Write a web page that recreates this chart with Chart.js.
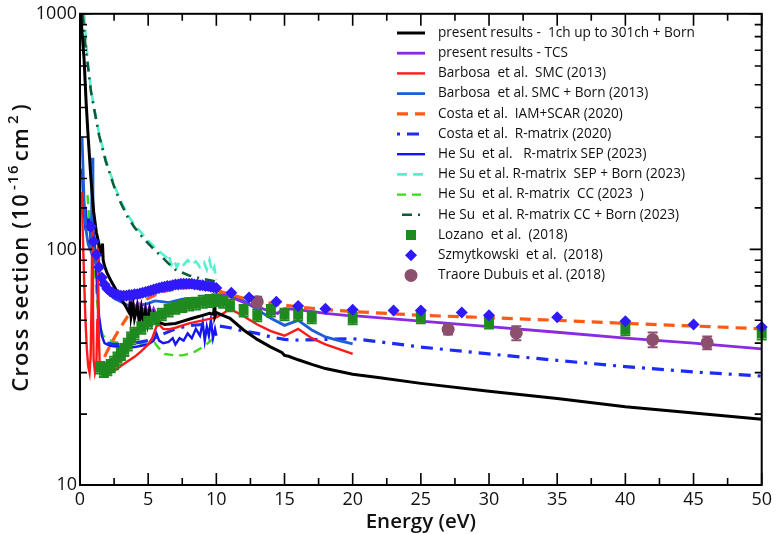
<!DOCTYPE html>
<html>
<head>
<meta charset="utf-8">
<script src="https://cdn.jsdelivr.net/npm/chart.js@4.4.1/dist/chart.umd.min.js"></script>
<style>
  html, body { margin: 0; padding: 0; background: #fff; }
  #wrap { width: 776px; height: 534px; }
</style>
</head>
<body>
<div id="wrap"><canvas id="chart" width="776" height="534"></canvas></div>
<script>
// Energy in eV, cross section in 1e-16 cm^2

const presentE = [0.05,0.3,0.45,0.6,0.8,1.0,1.2,1.4,1.55,1.62,1.65,1.7,1.8,2.0,2.3,2.6,3.0,3.3,3.6,3.7,3.75,3.9,4.0,4.2,4.35,4.5,4.65,4.8,4.95,5.1,5.25,5.4,5.6,5.8,6.2,7.0,7.5,8.0,8.5,9.0,9.5,9.8,9.85,9.9,10.0,10.3,11,12,13,14,14.8,15,15.3,16,17,18,20,22,25,30,35,40,45,50];
const presentV = [1000,640,420,300,200,145,118,105,98,95,106,90,85,79,73,68,62,58,54,60,52,58,51,57,49,56,49,55,48.5,55,49,53,48.5,49,48,48.5,49.5,50.5,51.5,52.5,53.5,53,58,52,54,53,51,45.5,41.5,38.5,36.5,35.5,35.2,34,32.5,31.2,29.5,28.5,27,25,23.3,21.5,20.2,19];

const tcsE = [3.6,3.7,3.75,3.9,4.0,4.2,4.35,4.5,4.65,4.8,4.95,5.1,5.25,5.4,5.6,5.8,6.2,6.6,7,7.5,8,8.5,9,9.5,10,10.5,11,12,13,14,14.5,14.8,15,16,18,19.5,20,25,30,35,40,45,50];
const tcsV = [54,63,55,58,54,59,53,58,53,57,53,57,53,56,53,54,54,54.5,55,56,57.5,59,60.5,62,63.5,64,63,59.5,57,54.5,53.5,55.5,56,55.5,53.5,52.5,52.3,49.6,47,44.5,42,40,37.8];

const smcE = [0.12,0.2,0.3,0.4,0.5,0.6,0.7,0.78,0.85,0.9,0.95,1.0,1.1,1.2,1.27,1.32,1.37,1.45,1.6,1.8,2.0,2.5,3,3.5,4,4.5,5,5.3,5.6,5.8,6.1,6.5,7,8,9,10,10.5,11,12,13,14,15,16,17,18,19,20];
const smcV = [175,120,75,50,38,32,30,35,60,120,55,34,30,32,50,110,45,32,29.5,29.3,29.5,30.5,32,33.5,35,37,39.5,42,47,48,46,45.8,46.5,48.5,50,51.5,53.5,56,52,48,45,43,46,42,39.5,37.7,36];

const smcBornE = [0.15,0.3,0.45,0.6,0.75,0.85,0.9,0.95,1.05,1.2,1.3,1.35,1.4,1.6,1.8,2.0,2.5,3,3.5,4,4.5,5,5.5,6,6.5,7,7.5,8,8.5,9,9.5,10,11,12,13,14,15,16,17,18,19,20];
const smcBornV = [300,160,120,105,100,140,245,120,95,86,82,105,78,71,68,66,62,60,58,57.5,58,59,60.5,60,59.5,60.5,61.5,62,61.5,62,63,63.5,65,60.5,55.5,51,47.6,50,45.5,42.5,41,39.7];

const iamE = [1.8,2.0,2.5,3,3.5,4,4.5,5,5.5,6,7,8,9,10,11,12,13,14,15,16,18,20,25,30,35,40,45,50];
const iamV = [35,37,42,47,52,56,59.5,62,64,66,68,69,68.5,67,64.5,62,60.5,59,58,57,55.5,54.5,52.5,51.3,50,48.5,47.3,46];

const costaRmE = [2,2.5,3,4,5,6,7,8,9,10,11,12,13,14,15,16,18,20,22,25,30,35,40,45,50];
const costaRmV = [40,39.5,39.5,40,41,43.5,46,47.5,48,47.5,46.5,45,44,42.5,41.5,41.2,41.5,41.8,40.5,38.5,36,33.8,31.8,30.2,29];

const sepE = [0.15,0.25,0.35,0.45,0.55,0.65,0.75,0.85,0.95,1.05,1.15,1.25,1.4,1.6,1.8,2.2,3,4,4.5,5,5.4,5.6,5.8,6.1,6.5,6.8,7,7.3,7.6,7.9,8.2,8.5,8.8,9.0,9.15,9.3,9.45,9.6,9.75,9.9,10];
const sepV = [220,150,130,140,120,135,115,125,105,112,88,70,52,43,40,39,38.5,38.5,39,39.5,41,44,41,40,40.5,42,39.5,42,41,44,42,46,43,49,41,47,43,50,42,46,43];

const sepBornE = [0.3,0.45,0.6,0.8,1.0,1.2,1.4,1.9,2.2,2.6,3.0,3.5,4,5,5.5,6,6.4,6.5,6.7,6.9,7.1,7.3,7.6,7.9,8.2,8.5,8.8,9.1,9.3,9.5,9.7,9.85,10];
const sepBornV = [1000,770,600,480,410,355,310,240,212,182,160,140,127,109,102,96,92,95,86,90,84,89,86,90,86,89,84,88,82,90,80,84,74];

const ccE = [0.55,0.7,0.85,1.0,1.1,1.25,1.45,1.7,2,2.5,3,4,5,5.5,5.8,6.2,7,7.5,8,8.5,9,9.5,10];
const ccV = [170,130,110,100,80,60,47,43,41.5,40.5,40,40,39.5,40,38,36,35.5,35.5,36,37,38.5,40.5,43];

const ccBornE = [0.2,0.4,0.6,0.8,1.0,1.4,1.9,2.6,3.0,3.5,4,4.5,5,5.5,6,6.5,7,8,9,10];
const ccBornV = [1000,730,590,470,405,305,235,178,157,137,124,114,106,99,93,87,82,77.5,75,73];

const lozanoE = [1.5,1.75,2,2.25,2.5,2.75,3,3.25,3.5,3.75,4,4.5,5,5.5,6,6.5,7,7.5,8,8.5,9,9.5,10,10.5,11,12,13,14,15,16,17,20,25,30,40,50];
const lozanoV = [31.5,30.5,31,32,33,34.5,36,37.5,39.5,42,44,46.5,49,51,53,55,56.5,57.5,58.5,59,60,60.5,61,60,58,55,52.5,55,53,53,51.5,51,51.5,49,45.8,44];
const lozanoErr = [1.8,1.8,1.8,1.9,2,2,2.1,2.2,2.3,2.4,2.5,2.6,2.8,2.9,3,3.1,3.2,3.3,3.4,3.4,3.5,3.5,3.5,3.4,3.3,3.1,3,3.1,3,3,2.9,2.9,2.9,2.8,2.6,2.5];

const szmE = [0.8,1.0,1.2,1.4,1.6,1.8,2.0,2.2,2.4,2.6,2.8,3.0,3.2,3.4,3.6,3.8,4.0,4.2,4.4,4.6,4.8,5.0,5.2,5.4,5.6,5.8,6.0,6.2,6.4,6.6,6.8,7.0,7.2,7.4,7.6,7.8,8.0,8.2,8.4,8.6,8.8,9.0,9.2,9.4,9.6,9.8,10.0,11.1,12.4,14.4,16,18,20,23,25,28,30,35,40,45,50];
const szmV = [125,108,95,84,76,71,68,66.5,65.5,64.5,64,63.5,63.5,63.5,64,64,64.5,64.5,65,65.5,66,66.5,67,67.5,68,68.5,69,69.5,70,70,70.5,71,71,71.5,71.5,71.5,71.5,71.5,71,71,70.5,70.5,70,70,69.5,69,68.5,65.5,62.5,60,57.5,56,55.5,55,55,54,52.5,51.5,49.5,48,46.8];

const traoreE = [13,27,32,42,46];
const traoreV = [60,45.8,44.2,41.4,40.2];
const traoreErr = [3,2.3,3,3,2.5];

const xTicks = [0, 5, 10, 15, 20, 25, 30, 35, 40, 45, 50];
const yLabelled = [10, 100, 1000];
const xTitle = 'Energy (eV)';
const yTitleParts = [['Cross section (10', false], ['-16', true], ['cm', false], ['2', true], [')', false]];

const FONT = '"Open Sans", "Liberation Sans", sans-serif';

const pts = (xs, ys) => xs.map((x, i) => ({ x: x, y: ys[i] }));

function lineSet(label, xs, ys, color, width, dash, order) {
  return {
    label, data: pts(xs, ys), showLine: true, borderColor: color, backgroundColor: color,
    borderWidth: width, borderDash: dash, pointRadius: 0, pointHoverRadius: 0,
    tension: 0, order: order
  };
}
function markSet(label, xs, ys, color, style, radius, order, err) {
  return {
    label, data: pts(xs, ys), showLine: false, borderColor: color, backgroundColor: color,
    pointStyle: style, pointRadius: radius, pointBorderWidth: 0, pointHoverRadius: radius,
    order: order, clip: 10, errors: err
  };
}

const datasets = [
  lineSet('present results -  1ch up to 301ch + Born', presentE, presentV, '#000000', 3, [], 3),
  lineSet('present results - TCS', tcsE, tcsV, '#8a2be2', 2.8, [], 4),
  lineSet('Barbosa  et al.  SMC (2013)', smcE, smcV, '#ff1a1a', 2.4, [], 6),
  lineSet('Barbosa  et al. SMC + Born (2013)', smcBornE, smcBornV, '#1f5fd6', 2.8, [], 7),
  lineSet('Costa et al.  IAM+SCAR (2020)', iamE, iamV, '#ff5a14', 3.2, [11, 7], 5),
  lineSet('Costa et al.  R-matrix (2020)', costaRmE, costaRmV, '#1c2cf2', 3.2, [12, 7, 3, 7], 8),
  lineSet('He Su  et al.   R-matrix SEP (2023)', sepE, sepV, '#1515f0', 2.4, [], 9),
  lineSet('He Su et al. R-matrix  SEP + Born (2023)', sepBornE, sepBornV, '#55f0d0', 2.6, [10, 6], 12),
  lineSet('He Su  et al. R-matrix  CC (2023  )', ccE, ccV, '#35dd12', 2.4, [9, 6], 10),
  lineSet('He Su  et al. R-matrix CC + Born (2023)', ccBornE, ccBornV, '#0b5e38', 2.6, [10, 6, 2, 6], 11),
  markSet('Lozano  et al.  (2018)', lozanoE, lozanoV, '#1f8a1f', 'rect', 7, 2, lozanoErr),
  markSet('Szmytkowski  et al.  (2018)', szmE, szmV, '#3019fa', 'rectRot', 6, 0, null),
  markSet('Traore Dubuis et al. (2018)', traoreE, traoreV, '#8c4f6e', 'circle', 6.5, 1, traoreErr)
];

// error bars drawn right after their own dataset, through the y scale
const errorBars = {
  id: 'errorBars',
  afterDatasetDraw(chart, args) {
    const ds = chart.data.datasets[args.index];
    if (!ds.errors) return;
    const ctx = chart.ctx, y = chart.scales.y, x = chart.scales.x;
    ctx.save();
    ctx.strokeStyle = ds.borderColor;
    ctx.lineWidth = 2;
    ds.data.forEach((p, i) => {
      const e = ds.errors[i];
      const px = x.getPixelForValue(p.x);
      const top = y.getPixelForValue(p.y + e), bot = y.getPixelForValue(p.y - e);
      ctx.beginPath();
      ctx.moveTo(px, top); ctx.lineTo(px, bot);
      ctx.moveTo(px - 5, top); ctx.lineTo(px + 5, top);
      ctx.moveTo(px - 5, bot); ctx.lineTo(px + 5, bot);
      ctx.stroke();
    });
    ctx.restore();
  }
};

// box frame with inward ticks on all four sides
const frameTicks = {
  id: 'frameTicks',
  afterDraw(chart) {
    const { ctx, chartArea: a, scales: { x, y } } = chart;
    ctx.save();
    ctx.strokeStyle = '#000';
    ctx.lineWidth = 2;
    ctx.strokeRect(a.left, a.top, a.right - a.left, a.bottom - a.top);
    ctx.lineWidth = 1.6;
    ctx.beginPath();
    const xv = x.ticks.map(t => t.value);
    xv.forEach((v, i) => {
      const px = x.getPixelForValue(v);
      ctx.moveTo(px, a.bottom); ctx.lineTo(px, a.bottom - 12);
      ctx.moveTo(px, a.top); ctx.lineTo(px, a.top + 12);
      if (i < xv.length - 1) {
        const mx = x.getPixelForValue((v + xv[i + 1]) / 2);
        ctx.moveTo(mx, a.bottom); ctx.lineTo(mx, a.bottom - 7);
        ctx.moveTo(mx, a.top); ctx.lineTo(mx, a.top + 7);
      }
    });
    y.ticks.forEach(t => {
      const lg = Math.log10(t.value);
      const major = Math.abs(lg - Math.round(lg)) < 1e-6;
      const len = major ? 12 : 7;
      const py = y.getPixelForValue(t.value);
      ctx.moveTo(a.left, py); ctx.lineTo(a.left + len, py);
      ctx.moveTo(a.right, py); ctx.lineTo(a.right - len, py);
    });
    ctx.stroke();
    ctx.restore();
  }
};

// y title with superscripts
const yTitle = {
  id: 'yTitle',
  afterDraw(chart) {
    const ctx = chart.ctx, a = chart.chartArea;
    const big = '600 22px ' + FONT, small = '600 15px ' + FONT;
    ctx.save();
    ctx.letterSpacing = '1.2px';
    const gap = 3;
    let total = 0;
    yTitleParts.forEach(([t, sup]) => { ctx.font = sup ? small : big; total += ctx.measureText(t).width + gap; });
    total -= gap;
    ctx.translate(28, (a.top + a.bottom) / 2 - 2);
    ctx.rotate(-Math.PI / 2);
    ctx.fillStyle = '#111';
    ctx.textBaseline = 'alphabetic';
    let cx = -total / 2;
    yTitleParts.forEach(([t, sup]) => {
      ctx.font = sup ? small : big;
      ctx.fillText(t, cx, sup ? -10 : 0);
      cx += ctx.measureText(t).width + gap;
    });
    ctx.restore();
  }
};

// legend inside the plot, top right
const legendBox = {
  id: 'legendBox',
  afterDraw(chart) {
    const ctx = chart.ctx;
    ctx.save();
    ctx.textBaseline = 'middle';
    chart.data.datasets.forEach((ds, i) => {
      const yy = 33 + i * 20.2;
      if (ds.showLine) {
        ctx.strokeStyle = ds.borderColor;
        ctx.lineWidth = ds.borderWidth;
        ctx.setLineDash(ds.borderDash || []);
        ctx.lineDashOffset = ds.borderDash && ds.borderDash.length === 4 ? 19 : 0;
        ctx.beginPath(); ctx.moveTo(397, yy); ctx.lineTo(425, yy); ctx.stroke();
        ctx.setLineDash([]);
      } else {
        ctx.fillStyle = ds.backgroundColor;
        ctx.beginPath();
        if (ds.pointStyle === 'rect') {
          ctx.rect(411 - 5, yy - 5, 10, 10);
        } else if (ds.pointStyle === 'rectRot') {
          ctx.moveTo(411, yy - 6); ctx.lineTo(417, yy); ctx.lineTo(411, yy + 6); ctx.lineTo(405, yy);
        } else {
          ctx.arc(411, yy, 6.5, 0, Math.PI * 2);
        }
        ctx.fill();
      }
      ctx.fillStyle = '#111';
      ctx.font = '13.6px ' + FONT;
      ctx.fillText(ds.label, 438, yy);
    });
    ctx.restore();
  }
};

new Chart(document.getElementById('chart'), {
  type: 'scatter',
  data: { datasets: datasets },
  plugins: [errorBars, frameTicks, yTitle, legendBox],
  options: {
    responsive: false,
    animation: false,
    events: [],
    layout: { padding: { top: 7, right: 9, left: 0, bottom: 0 } },
    plugins: { legend: { display: false }, tooltip: { enabled: false } },
    scales: {
      x: {
        type: 'linear', min: 0, max: 50,
        afterBuildTicks: s => { s.ticks = xTicks.map(v => ({ value: v })); },
        ticks: { autoSkip: false, maxRotation: 0, padding: 4, color: '#111', font: { family: FONT, size: 18 } },
        grid: { display: false, drawTicks: false },
        border: { display: false },
        title: { display: true, text: xTitle, color: '#111', font: { family: FONT, size: 20.5, weight: '600' }, padding: { top: 0, bottom: 0 } },
        afterFit: s => { s.height = 49; }
      },
      y: {
        type: 'logarithmic', min: 10, max: 1000,
        ticks: {
          autoSkip: false, padding: 3, color: '#111', font: { family: FONT, size: 18 },
          callback: v => yLabelled.includes(v) ? String(v) : ''
        },
        grid: { display: false, drawTicks: false },
        border: { display: false },
        afterFit: s => { s.width = 80; }
      }
    }
  }
});
</script>
</body>
</html>
